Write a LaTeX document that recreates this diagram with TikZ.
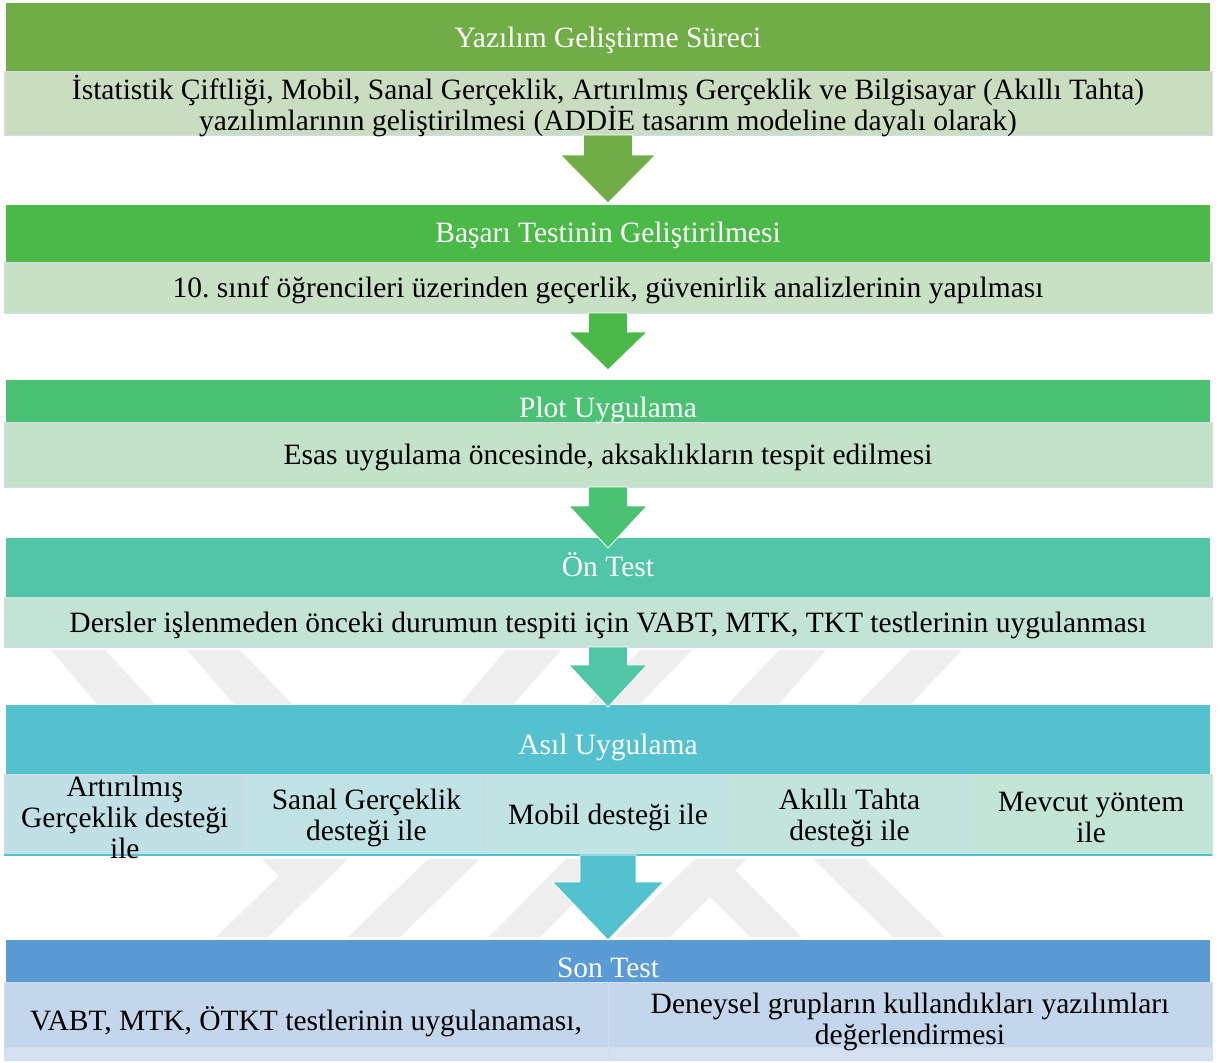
\documentclass[tikz,border=0pt]{standalone}
\usepackage{fontspec}
\setmainfont{Liberation Serif}
\usetikzlibrary{positioning,calc}
\frenchspacing

\definecolor{hdA}{RGB}{112,173,71}
\definecolor{hdB}{RGB}{75,185,72}
\definecolor{hdC}{RGB}{75,194,115}
\definecolor{hdD}{RGB}{80,198,166}
\definecolor{hdE}{RGB}{84,193,207}
\definecolor{hdF}{RGB}{91,155,213}
\definecolor{sbA}{RGB}{202,221,192}
\definecolor{sbB}{RGB}{200,225,197}
\definecolor{sbC}{RGB}{195,226,201}
\definecolor{sbD}{RGB}{194,227,214}
\definecolor{ceA}{RGB}{193,224,230}
\definecolor{ceB}{RGB}{193,226,229}
\definecolor{ceC}{RGB}{193,227,225}
\definecolor{ceD}{RGB}{194,228,220}
\definecolor{ceE}{RGB}{195,229,216}
\definecolor{sbF}{RGB}{195,214,235}
\definecolor{stF}{RGB}{213,225,240}
\definecolor{rim}{RGB}{212,220,236}
\definecolor{wmark}{RGB}{238,238,238}

\tikzset{
  head/.style={fill=#1, minimum width=1204pt, inner sep=0pt, outer sep=0pt},
  headtxt/.style={text=white, font=\fontsize{29.5}{31}\selectfont, text height=20pt, text depth=7pt, inner sep=0pt},
  sub/.style={fill=#1, draw=rim, line width=0.8pt, minimum width=1208pt, inner sep=0pt, outer sep=0pt},
  cell/.style={fill=#1, draw=rim, line width=0.8pt, minimum width=241.6pt, minimum height=81pt, inner sep=0pt, outer sep=0pt},
  celltxt/.style={align=center, font=\fontsize{29.5}{31}\selectfont, inner sep=0pt},
  wm/.style={fill=wmark}
}

% #1 colour, #2 from, #3 to, #4 stem half width, #5 head half width, #6 stem length, #7 tip shift
\newcommand{\flowarrow}[7]{%
  \filldraw[fill=#1, draw=white, line width=0.8pt, line join=miter]
    ($(#2.south)+(-#4,0)$) -- ($(#2.south)+(-#4,#6)$) -- ($(#2.south)+(-#5,#6)$)
    -- ($(#3.north)+(0,#7)$)
    -- ($(#2.south)+(#5,#6)$) -- ($(#2.south)+(#4,#6)$) -- ($(#2.south)+(#4,0)$) -- cycle;}

\begin{document}
\begin{tikzpicture}[x=1pt, y=-1pt]
  \useasboundingbox (0,0) rectangle (1221,1063);

  % watermark
  \fill[wm] (51,650) -- (105,650) -- (155,704) -- (97,704) -- cycle;
  \fill[wm] (187,650) -- (240,650) -- (292,704) -- (234,704) -- cycle;
  \fill[wm] (506,650) -- (561,650) -- (514,704) -- (460,704) -- cycle;
  \fill[wm] (640,650) -- (692,650) -- (640,704) -- (588,704) -- cycle;
  \fill[wm] (779,650) -- (826,650) -- (779,704) -- (728,704) -- cycle;
  \fill[wm] (911,650) -- (962,650) -- (911,704) -- (857,704) -- cycle;
  \fill[wm] (262,859) -- (348,859) -- (268,937) -- (216,937) -- (279,876) -- cycle;
  \fill[wm] (428,859) -- (480,859) -- (400,937) -- (348,937) -- cycle;
  \fill[wm] (566,859) -- (618,859) -- (540,937) -- (489,937) -- cycle;
  \fill[wm] (695,859) -- (747,859) -- (735,870) -- (802,937) -- (750,937) -- (710,897) -- (670,937) -- (615,937) -- cycle;
  \fill[wm] (813,859) -- (865,859) -- (945,937) -- (893,937) -- cycle;

  % Yazilim
  \node[head=hdA, minimum height=68pt, anchor=north] (h1) at (608,3) {};
  \node[headtxt] (h1t) at ($(h1.north)+(0,38)$) {Yazılım Geliştirme Süreci};
  \node[sub=sbA, minimum height=64pt, below=0pt of h1] (s1) {};
  \node[celltxt] (s1t) at ($(s1)+(0,3)$) {İstatistik Çiftliği, Mobil, Sanal Gerçeklik, Artırılmış Gerçeklik ve Bilgisayar (Akıllı Tahta)\\yazılımlarının geliştirilmesi (ADDİE tasarım modeline dayalı olarak)};

  % Basari testi
  \node[head=hdB, minimum height=57pt, below=70pt of s1] (h2) {};
  \node[headtxt] (h2t) at ($(h2.north)+(0,31)$) {Başarı Testinin Geliştirilmesi};
  \node[sub=sbB, minimum height=51pt, below=0pt of h2] (s2) {};
  \node[celltxt] (s2t) at ($(s2)+(0,3)$) {10. sınıf öğrencileri üzerinden geçerlik, güvenirlik analizlerinin yapılması};

  % Plot
  \node[head=hdC, minimum height=42pt, below=67pt of s2] (h3) {};
  \node[sub=sbC, minimum height=65pt, below=0pt of h3] (s3) {};
  \node[headtxt] (h3t) at ($(h3.north)+(0,31)$) {Plot Uygulama};
  \node[celltxt] (s3t) at ($(s3)+(0,3)$) {Esas uygulama öncesinde, aksaklıkların tespit edilmesi};

  % On test
  \node[head=hdD, minimum height=59pt, below=51pt of s3] (h4) {};
  \node[headtxt] (h4t) at ($(h4.north)+(0,32)$) {Ön Test};
  \node[sub=sbD, minimum height=50pt, below=0pt of h4] (s4) {};
  \node[celltxt] (s4t) at ($(s4)+(0,3)$) {Dersler işlenmeden önceki durumun tespiti için VABT, MTK, TKT testlerinin uygulanması};

  % Asil uygulama
  \node[head=hdE, minimum height=69pt, below=58pt of s4] (h5) {};
  \node[headtxt] (h5t) at ($(h5.north)+(0,43)$) {Asıl Uygulama};
  \node[cell=ceC, below=0pt of h5] (c3) {};
  \node[cell=ceB, left=0pt of c3] (c2) {};
  \node[cell=ceA, left=0pt of c2] (c1) {};
  \node[cell=ceD, right=0pt of c3] (c4) {};
  \node[cell=ceE, right=0pt of c4] (c5) {};
  \draw[hdE, line width=1.5pt] (c1.south west) -- (c5.south east);
  \node[celltxt] (c1t) at ($(c1)+(0,3)$) {Artırılmış\\Gerçeklik desteği\\ile};
  \node[celltxt] (c2t) at ($(c2)+(0,3)$) {Sanal Gerçeklik\\desteği ile};
  \node[celltxt] (c3t) at ($(c3)+(0,3)$) {Mobil desteği ile};
  \node[celltxt] (c4t) at ($(c4)+(0,3)$) {Akıllı Tahta\\desteği ile};
  \node[celltxt] (c5t) at ($(c5)+(0,3)$) {Mevcut yöntem\\ile};

  % Son test
  \node[head=hdF, minimum height=42pt, below=85pt of c3] (h6) {};
  \node[headtxt] (h6t) at ($(h6.north)+(0,31)$) {Son Test};
  \node[cell=sbF, minimum width=604pt, minimum height=65pt, anchor=north east] (d1) at (h6.south) {};
  \node[cell=sbF, minimum width=604pt, minimum height=65pt, anchor=north west] (d2) at (h6.south) {};
  \node[cell=stF, minimum width=604pt, minimum height=13pt, below=0pt of d1] (e1) {};
  \node[cell=stF, minimum width=604pt, minimum height=13pt, below=0pt of d2] (e2) {};
  \node[celltxt] (d1t) at ($(d1.north)!0.5!(e1.south)+(0,1)$) {VABT, MTK, ÖTKT testlerinin uygulanaması,};
  \node[celltxt] (d2t) at ($(d2.north)!0.5!(e2.south)+(0,1)$) {Deneysel grupların kullandıkları yazılımları\\değerlendirmesi};

  % arrows
  \flowarrow{hdA}{s1}{h2}{24.5}{47.5}{20}{-2}
  \flowarrow{hdB}{s2}{h3}{19.5}{39}{19}{-10}
  \flowarrow{hdC}{s3}{h4}{19.5}{39}{19}{10}
  \flowarrow{hdD}{s4}{h5}{19.5}{39}{18}{2}
  \flowarrow{hdE}{c3}{h6}{28}{55.5}{27}{0}
\end{tikzpicture}
\end{document}
